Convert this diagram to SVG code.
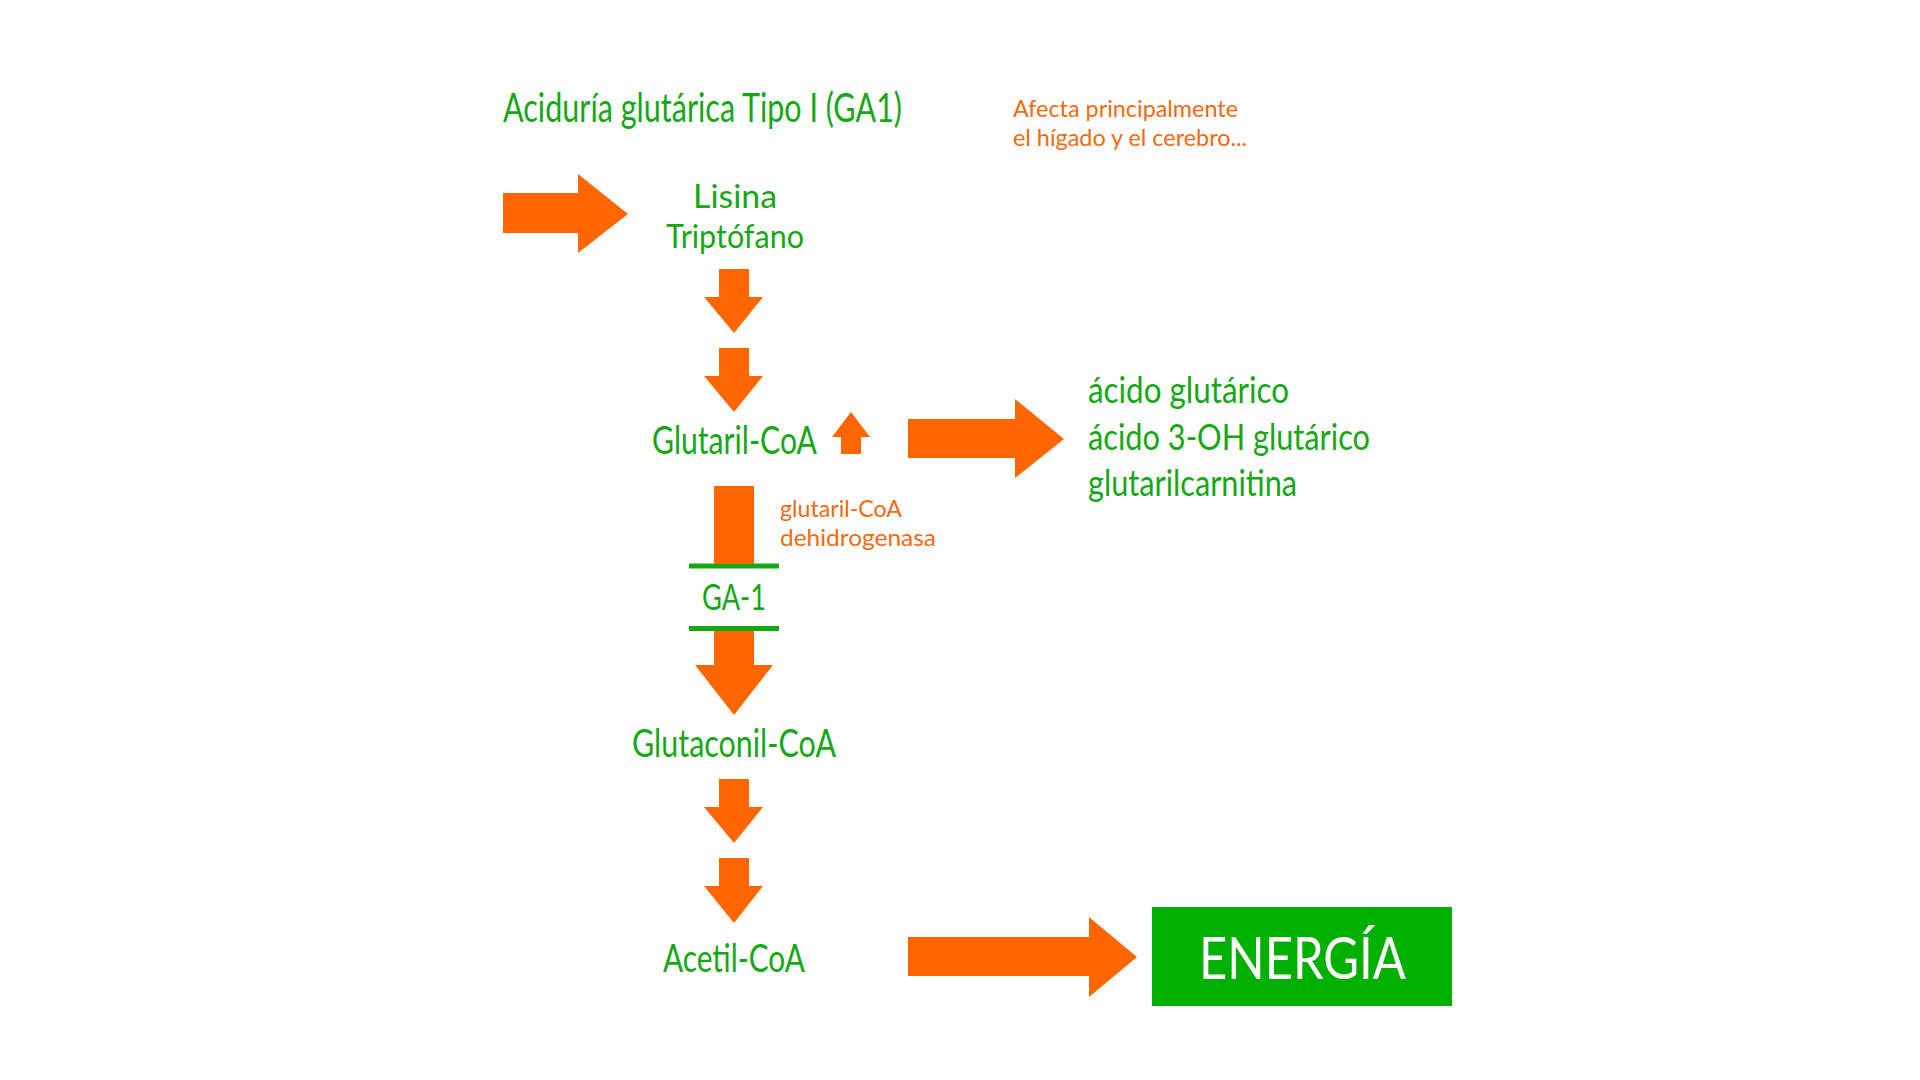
<svg xmlns="http://www.w3.org/2000/svg" width="1920" height="1080" viewBox="0 0 1920 1080">
<style>
.g{fill:#14a814;font-family:Lato,"Liberation Sans",sans-serif;}
.o{fill:#f26a10;font-family:Lato,"Liberation Sans",sans-serif;}
.arr{fill:#ff6600;}
.bar{stroke:#14a814;stroke-width:5;}
</style>
<rect width="1920" height="1080" fill="#ffffff"/>
<g id="title"><text class="g" x="503" y="122" font-size="40" textLength="399" lengthAdjust="spacingAndGlyphs">Aciduría glutárica Tipo I (GA1)</text></g>
<g id="note"><text class="o" font-size="24"><tspan x="1013" y="117" textLength="225" lengthAdjust="spacingAndGlyphs">Afecta principalmente</tspan><tspan x="1013" y="146" textLength="234" lengthAdjust="spacingAndGlyphs">el hígado y el cerebro...</tspan></text></g>
<g id="lisina"><text class="g" font-size="33"><tspan x="693" y="208" textLength="84" lengthAdjust="spacingAndGlyphs">Lisina</tspan><tspan x="666" y="248" textLength="138" lengthAdjust="spacingAndGlyphs">Triptófano</tspan></text></g>
<g id="glutarilcoa"><text class="g" x="652" y="454" font-size="38" textLength="165" lengthAdjust="spacingAndGlyphs">Glutaril-CoA</text></g>
<g id="enzyme"><text class="o" font-size="24"><tspan x="780" y="517" textLength="122" lengthAdjust="spacingAndGlyphs">glutaril-CoA</tspan><tspan x="780" y="546" textLength="156" lengthAdjust="spacingAndGlyphs">dehidrogenasa</tspan></text></g>
<g id="acidos"><text class="g" font-size="37"><tspan x="1088" y="403" textLength="201" lengthAdjust="spacingAndGlyphs">ácido glutárico</tspan><tspan x="1088" y="450" textLength="282" lengthAdjust="spacingAndGlyphs">ácido 3-OH glutárico</tspan><tspan x="1088" y="496" textLength="209" lengthAdjust="spacingAndGlyphs">glutarilcarnitina</tspan></text></g>
<g id="ga1"><line class="bar" x1="689" y1="566" x2="779" y2="566"/><text class="g" x="702" y="610" font-size="36" textLength="64" lengthAdjust="spacingAndGlyphs">GA-1</text><line class="bar" x1="689" y1="628.5" x2="779" y2="628.5"/></g>
<g id="glutaconilcoa"><text class="g" x="632" y="757" font-size="38" textLength="204" lengthAdjust="spacingAndGlyphs">Glutaconil-CoA</text></g>
<g id="acetilcoa"><text class="g" x="663" y="972" font-size="38" textLength="142" lengthAdjust="spacingAndGlyphs">Acetil-CoA</text></g>
<g id="energia"><rect x="1152" y="907" width="300" height="99" fill="#00b000"/><text x="1199" y="979" font-size="58" fill="#ffffff" font-family="Lato,'Liberation Sans',sans-serif" textLength="207" lengthAdjust="spacingAndGlyphs">ENERGÍA</text></g>
<g id="connectors">
<polygon class="arr" points="503,193 578,193 578,174 628,214 578,253 578,233 503,233"/>
<polygon class="arr" points="719,269 749,269 749,297 763,297 734,333 704,297 719,297"/>
<polygon class="arr" points="719,348 749,348 749,376 763,376 734,412 704,376 719,376"/>
<polygon class="arr" points="841,454 861,454 861,437 870,437 851,412 832,437 841,437"/>
<polygon class="arr" points="908,419 1015,419 1015,399 1064,439 1015,478 1015,458 908,458"/>
<rect class="arr" x="714" y="486" width="40" height="78"/>
<polygon class="arr" points="714,631 754,631 754,665 773,665 734,715 695,665 714,665"/>
<polygon class="arr" points="719,779 749,779 749,807 763,807 734,843 704,807 719,807"/>
<polygon class="arr" points="719,858 749,858 749,886 763,886 734,923 704,886 719,886"/>
<polygon class="arr" points="908,937 1089,937 1089,917 1137,957 1089,997 1089,976 908,976"/>
</g>
</svg>
